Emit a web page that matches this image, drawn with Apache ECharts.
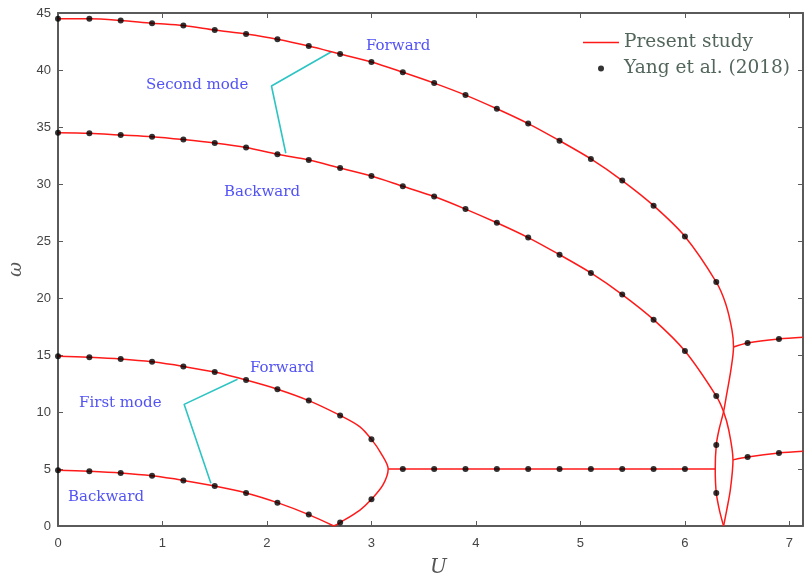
<!DOCTYPE html>
<html>
<head>
<meta charset="utf-8">
<script src="https://cdn.jsdelivr.net/npm/echarts@6/dist/echarts.min.js"></script>
<style>
  html, body { margin: 0; padding: 0; background: #fff; }
  #chart { width: 804px; height: 574px; }
</style>
</head>
<body>
<div id="chart"></div>
<script>
// U grid for the reference points (Yang et al. 2018)
const uGrid = [0, 0.3, 0.6, 0.9, 1.2, 1.5, 1.8, 2.1, 2.4, 2.7, 3.0, 3.3, 3.6, 3.9, 4.2, 4.5, 4.8, 5.1, 5.4, 5.7, 6.0, 6.3]
const yangFwd2 = [44.5, 44.5, 44.35, 44.1, 43.9, 43.5, 43.15, 42.7, 42.1, 41.4, 40.7, 39.8, 38.85, 37.8, 36.6, 35.3, 33.8, 32.2, 30.3, 28.1, 25.4, 21.4]
const yangBwd2 = [34.5, 34.45, 34.3, 34.15, 33.9, 33.6, 33.2, 32.6, 32.1, 31.4, 30.7, 29.8, 28.9, 27.8, 26.6, 25.3, 23.8, 22.2, 20.3, 18.1, 15.35, 11.4]
const yangFwd1 = [14.9, 14.8, 14.65, 14.4, 14.0, 13.5, 12.8, 12.0, 11.0, 9.7, 7.6]
const yangBwd1 = [4.9, 4.8, 4.65, 4.4, 4.0, 3.5, 2.9, 2.05, 1.0]
const yangExtra = [[3.0, 2.34], [2.7, 0.3], [3.3, 5], [3.6, 5], [3.9, 5], [4.2, 5], [4.5, 5], [4.8, 5], [5.1, 5], [5.4, 5], [5.7, 5], [6.0, 5],
  [6.3, 7.1], [6.3, 2.9], [6.6, 16.05], [6.9, 16.4], [6.6, 6.05], [6.9, 6.4]]

// present study curves, [U, omega]
const turnFwd2 = [[6.39, 19.5], [6.45, 17.2], [6.465, 15.7], [6.44, 13.7], [6.39, 11.05], [6.37, 10.03], [6.325, 8.4], [6.3, 7.1], [6.29, 5.0], [6.3, 2.9], [6.33, 1.4], [6.37, 0]]
const turnBwd2 = [[6.37, 10.03], [6.42, 8.4], [6.46, 5.8], [6.435, 3.2], [6.4, 1.4], [6.37, 0]]
const upperBranch = [[6.465, 15.7], [6.6, 16.05], [6.9, 16.4], [7.13, 16.55]]
const lowerBranch = [[6.46, 5.8], [6.6, 6.05], [6.9, 6.4], [7.13, 6.55]]
const loopFwd1 = [[2.89, 8.7], [3.0, 7.6], [3.09, 6.4], [3.16, 5.0], [3.11, 3.6], [3.0, 2.34], [2.89, 1.4], [2.7, 0.3], [2.64, 0]]
const plateau = [[3.16, 5], [6.29, 5]]

// annotation pointers
const ptr2 = [[2.617, 41.6], [2.043, 38.6], [2.18, 32.7]]
const ptr1 = [[1.718, 12.87], [1.207, 10.67], [1.463, 3.74]]

const zip = (ys) => ys.map((y, i) => [uGrid[i], y])

let fwd2 = zip(yangFwd2).concat(turnFwd2)
let bwd2 = zip(yangBwd2).concat(turnBwd2)
let fwd1 = zip(yangFwd1).slice(0, 10).concat(loopFwd1)
let bwd1 = zip(yangBwd1).concat([[2.64, 0]])

let yangAll = zip(yangFwd2).concat(zip(yangBwd2), zip(yangFwd1), zip(yangBwd1), yangExtra)

const red = '#ff1a1a'
const axisColor = '#5a5a5a'
const blue = '#5252f5'
const cyan = '#2ec4c4'

function redLine (data) {
  return {
    name: 'Present study',
    type: 'line',
    data: data,
    smooth: 0.3,
    symbol: 'none',
    lineStyle: {color: red, width: 1.5},
    itemStyle: {color: red},
    z: 2,
    silent: true
  }
}
function pointer (data) {
  return {
    name: 'ptr',
    type: 'line',
    data: data,
    symbol: 'none',
    lineStyle: {color: cyan, width: 1.6},
    z: 1,
    silent: true
  }
}
function note (text, left, top) {
  return {
    type: 'text',
    left: left,
    top: top,
    style: {text: text, fill: blue, font: '15px "DejaVu Serif"'}
  }
}
// same box style on all four sides
function axisBox (extra) {
  return Object.assign({
    type: 'value',
    axisLine: {onZero: false, lineStyle: {color: axisColor, width: 2}},
    axisTick: {inside: true, length: 5, lineStyle: {color: axisColor}},
    splitLine: {show: false}
  }, extra)
}

let chart = echarts.init(document.getElementById('chart'))
chart.setOption({
  animation: false,
  backgroundColor: '#fff',
  grid: {left: 58, right: 1, top: 13, bottom: 48, outerBoundsMode: 'none'},
  legend: {
    data: [
      {name: 'Present study', icon: 'path://M0,0 L36,0 L36,1.5 L0,1.5 Z'},
      {name: 'Yang et al. (2018)', icon: 'circle'}
    ],
    orient: 'vertical',
    left: 578,
    top: 28,
    itemWidth: 36,
    itemHeight: 6,
    itemGap: 7,
    textStyle: {color: '#53665c', fontSize: 18.5, fontFamily: 'DejaVu Serif'}
  },
  xAxis: [
    axisBox({
      min: 0, max: 7.13, interval: 1,
      name: 'U',
      nameLocation: 'middle',
      nameGap: 32,
      nameTextStyle: {fontFamily: 'DejaVu Serif', fontStyle: 'italic', fontSize: 20, color: '#555', padding: [0, 0, 0, 16]},
      axisLabel: {color: '#444', fontSize: 13, fontFamily: 'Liberation Sans', margin: 11, showMaxLabel: false}
    }),
    axisBox({position: 'top', min: 0, max: 7.13, interval: 1, axisLabel: {show: false}})
  ],
  yAxis: [
    axisBox({
      min: 0, max: 45, interval: 5,
      name: 'ω',
      nameLocation: 'middle',
      nameGap: 32,
      nameTextStyle: {fontFamily: 'DejaVu Serif', fontStyle: 'italic', fontSize: 18, color: '#555'},
      axisLabel: {color: '#444', fontSize: 13, fontFamily: 'Liberation Sans', margin: 7}
    }),
    axisBox({position: 'right', min: 0, max: 45, interval: 5, axisLabel: {show: false}})
  ],
  graphic: [
    note('Forward', 366, 39),
    note('Second mode', 146, 78),
    note('Backward', 224, 185),
    note('Forward', 250, 361),
    note('First mode', 79, 396),
    note('Backward', 68, 490)
  ],
  series: [
    redLine(fwd2),
    redLine(bwd2),
    redLine(upperBranch),
    redLine(lowerBranch),
    redLine(fwd1),
    redLine(bwd1),
    redLine(plateau),
    pointer(ptr2),
    pointer(ptr1),
    {
      name: 'Yang et al. (2018)',
      type: 'scatter',
      data: yangAll,
      symbolSize: 6,
      itemStyle: {color: '#000'},
      z: 3,
      silent: true
    }
  ]
})
</script>
</body>
</html>
